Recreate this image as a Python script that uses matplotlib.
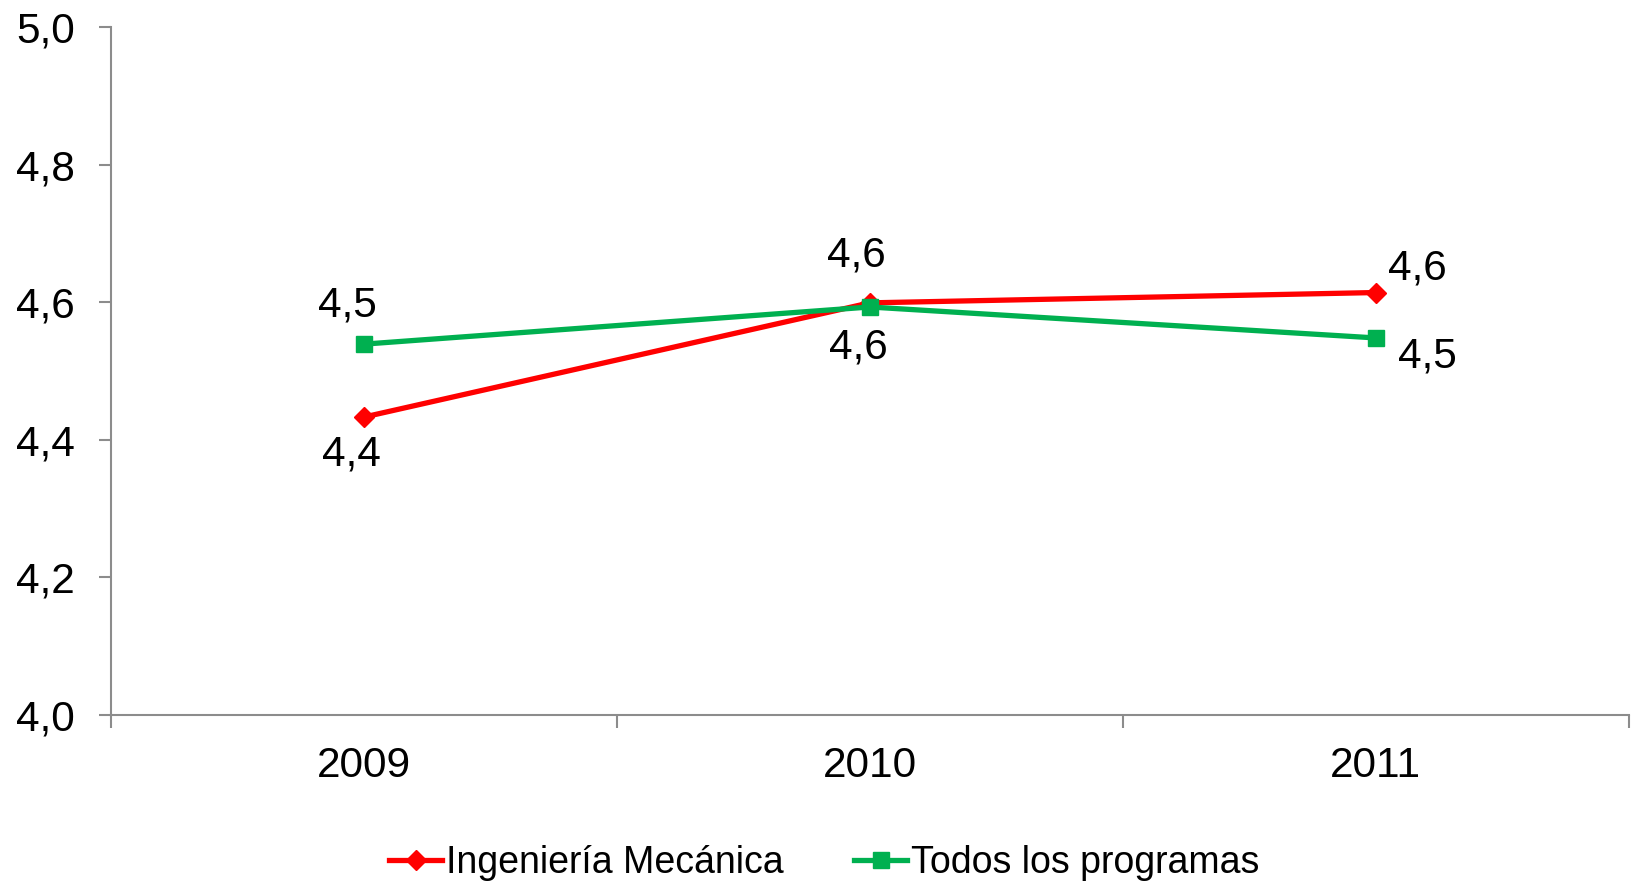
import matplotlib.pyplot as plt

plt.rcParams['font.family'] = ['Liberation Sans', 'DejaVu Sans']

years = ["2009", "2010", "2011"]
mecanica = [4.433, 4.599, 4.614]
todos = [4.539, 4.593, 4.548]

# label offsets (points) for each data label
off_mec = [(-9, -27), (-10, 34), (30, 17)]
off_tod = [(-12, 28), (-8, -29), (37, -13)]

fig = plt.figure(figsize=(16.32, 8.84), dpi=100)
ax = fig.add_axes([0.068, 0.1912, 0.930, 0.7783])

x = range(len(years))
ax.plot(x, mecanica, color="#ff0000", lw=3.8, marker="D", ms=10,
        label="Ingeniería Mecánica", zorder=3)
ax.plot(x, todos, color="#00b050", lw=3.8, marker="s", ms=11,
        label="Todos los programas", zorder=3)

for i in x:
    ax.annotate(f"{mecanica[i]:.1f}".replace(".", ","), (i, mecanica[i]),
                xytext=off_mec[i], textcoords="offset points",
                ha="center", va="center", fontsize=30.5)
    ax.annotate(f"{todos[i]:.1f}".replace(".", ","), (i, todos[i]),
                xytext=off_tod[i], textcoords="offset points",
                ha="center", va="center", fontsize=30.5)

ax.set_xlim(-0.5, 2.5)
ax.set_ylim(4.0, 5.0)
ax.set_yticks([4.0, 4.2, 4.4, 4.6, 4.8, 5.0])
ax.set_yticklabels(["4,0", "4,2", "4,4", "4,6", "4,8", "5,0"])
ax.set_xticks([-0.5, 0.5, 1.5, 2.5])
ax.set_xticklabels([])
ax.set_xticks([0, 1, 2], minor=True)
ax.set_xticklabels(years, minor=True)

for s in ["top", "right"]:
    ax.spines[s].set_visible(False)
for s in ["left", "bottom"]:
    ax.spines[s].set_color("#8c8c8c")
    ax.spines[s].set_linewidth(1.5)

ax.tick_params(axis="both", which="major", color="#8c8c8c", width=1.5,
               length=9, labelsize=30.5)
ax.tick_params(axis="y", pad=17)
ax.tick_params(axis="x", which="minor", length=0, labelsize=30.5, pad=22)

fig.legend(loc="lower center", bbox_to_anchor=(0.505, -0.035), ncol=2,
           frameon=False, fontsize=27, handlelength=1.4, handletextpad=0.1,
           columnspacing=1.9, markerscale=1.0)

fig.savefig("out.png", dpi=100)
